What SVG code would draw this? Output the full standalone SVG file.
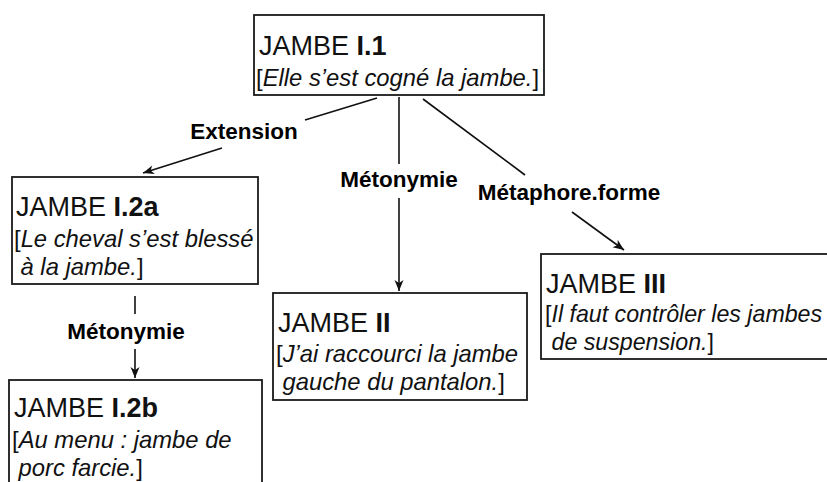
<svg xmlns="http://www.w3.org/2000/svg" width="827" height="482" viewBox="0 0 827 482">
<style>
.box{fill:#fff;stroke:#1a1a1a;stroke-width:1.8}
.t{font-family:"Liberation Sans",Arial,sans-serif;font-size:27px;fill:#111}
.t .b{font-weight:bold}
.e{font-family:"Liberation Sans",Arial,sans-serif;font-size:23.8px;fill:#111}
.e .i{font-style:italic}
.e.s{font-size:23.2px}
.lbl{font-family:"Liberation Sans",Arial,sans-serif;font-size:22.5px;font-weight:bold;fill:#000;text-anchor:middle}
.ln{stroke:#111;stroke-width:1.6;fill:none}
</style>
<defs>
<marker id="ah" markerUnits="userSpaceOnUse" markerWidth="12" markerHeight="10" refX="11" refY="4.5" orient="auto">
<path d="M0,0 L11,4.5 L0,9 L3,4.5 z" fill="#111"/>
</marker>
</defs>
<rect width="827" height="482" fill="#fff"/>
<g id="connectors">
<line class="ln" x1="377" y1="98" x2="305" y2="120"/>
<line class="ln" x1="222" y1="148" x2="143" y2="173" marker-end="url(#ah)"/>
<line class="ln" x1="399" y1="97" x2="399" y2="164"/>
<line class="ln" x1="399" y1="198" x2="399" y2="291" marker-end="url(#ah)"/>
<line class="ln" x1="423" y1="99" x2="525" y2="175"/>
<line class="ln" x1="572" y1="212" x2="624" y2="250" marker-end="url(#ah)"/>
<line class="ln" x1="135" y1="296" x2="135" y2="314"/>
<line class="ln" x1="135" y1="349" x2="135" y2="378" marker-end="url(#ah)"/>
<text class="lbl" x="244" y="139">Extension</text>
<text class="lbl" x="399" y="187">Métonymie</text>
<text class="lbl" x="569" y="200">Métaphore.forme</text>
<text class="lbl" x="126" y="339">Métonymie</text>
</g>
<g id="n-I1">
<rect class="box" x="254" y="15" width="290" height="80"/>
<text class="t" x="259" y="55">JAMBE <tspan class="b">I.1</tspan></text>
<text class="e" x="256" y="86">[<tspan class="i">Elle s’est cogné la jambe.</tspan>]</text>
</g>
<g id="n-I2a">
<rect class="box" x="12" y="177" width="246" height="107"/>
<text class="t" x="16" y="216">JAMBE <tspan class="b">I.2a</tspan></text>
<text class="e" x="14" y="247">[<tspan class="i">Le cheval s’est blessé</tspan></text>
<text class="e" x="20.5" y="275"><tspan class="i">à la jambe.</tspan>]</text>
</g>
<g id="n-I2b">
<rect class="box" x="9" y="380" width="253" height="110"/>
<text class="t" x="14" y="417">JAMBE <tspan class="b">I.2b</tspan></text>
<text class="e" x="12" y="448">[<tspan class="i">Au menu : jambe de</tspan></text>
<text class="e" x="18.5" y="476"><tspan class="i">porc farcie.</tspan>]</text>
</g>
<g id="n-II">
<rect class="box" x="273" y="293" width="254" height="107"/>
<text class="t" x="278" y="332">JAMBE <tspan class="b">II</tspan></text>
<text class="e" x="276" y="362">[<tspan class="i">J’ai raccourci la jambe</tspan></text>
<text class="e" x="282.5" y="390"><tspan class="i">gauche du pantalon.</tspan>]</text>
</g>
<g id="n-III">
<rect class="box" x="541" y="254" width="300" height="105"/>
<text class="t" x="546" y="293">JAMBE <tspan class="b">III</tspan></text>
<text class="e s" x="545" y="322">[<tspan class="i">Il faut contrôler les jambes</tspan></text>
<text class="e s" x="551.5" y="350"><tspan class="i">de suspension.</tspan>]</text>
</g>
</svg>
